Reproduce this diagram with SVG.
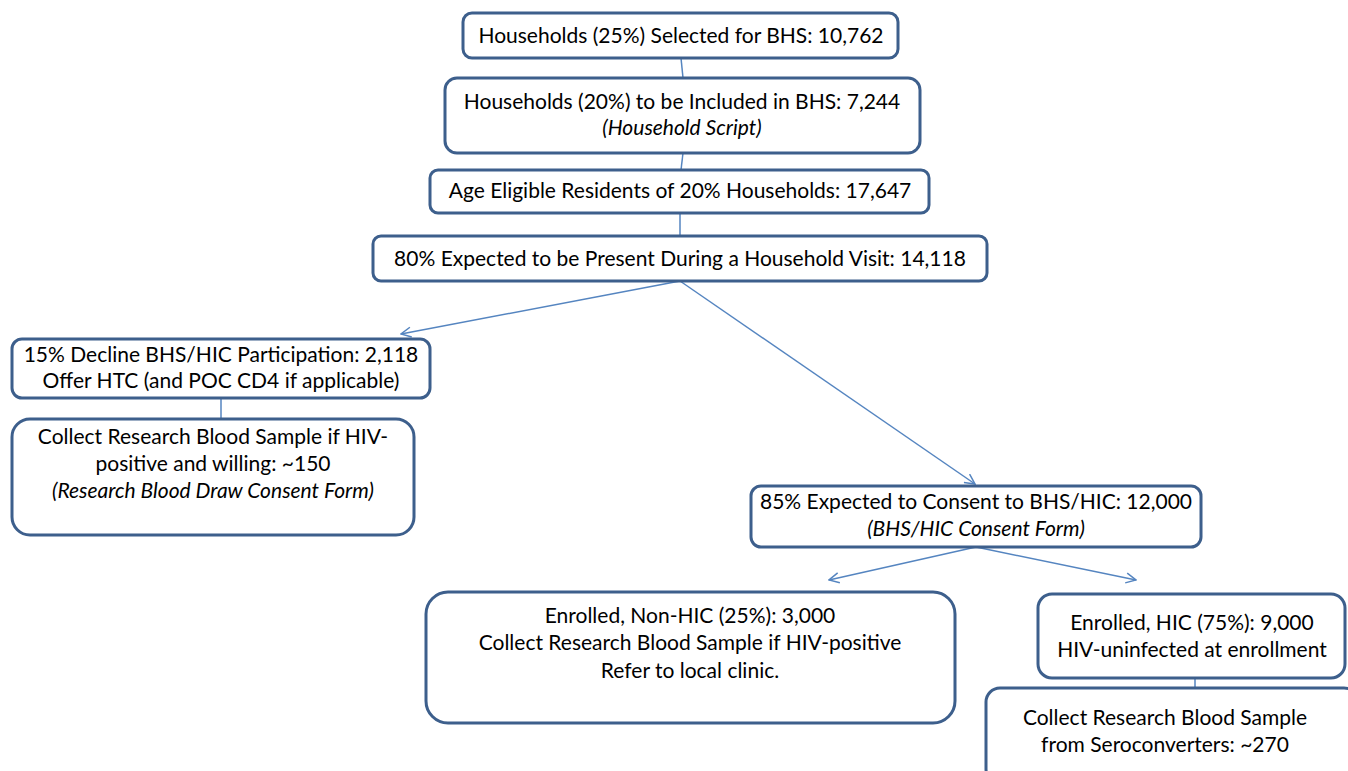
<svg xmlns="http://www.w3.org/2000/svg" width="1348" height="771" viewBox="0 0 1348 771">
  <style>
    .box { fill: #ffffff; stroke: #3d5f8c; stroke-width: 3; }
    .lbl { font-family: Lato, "Liberation Sans", sans-serif; font-size: 21px; fill: #000000; text-anchor: middle; }
    .it { font-style: italic; }
    .conn { fill: none; stroke: #5585c0; stroke-width: 1.5; }
  </style>
  <defs>
    <marker id="open" viewBox="0 0 12 12" refX="11" refY="6" markerWidth="12" markerHeight="12" markerUnits="userSpaceOnUse" orient="auto">
      <path d="M1,1 L11,6 L1,11" fill="none" stroke="#5585c0" stroke-width="1.5"/>
    </marker>
  </defs>

  <g id="connectors">
    <line class="conn" x1="681" y1="58" x2="683" y2="78"/>
    <line class="conn" x1="683" y1="153" x2="681" y2="170"/>
    <line class="conn" x1="680" y1="213" x2="680" y2="236"/>
    <line class="conn" x1="680" y1="281" x2="401" y2="334" marker-end="url(#open)"/>
    <line class="conn" x1="680" y1="281" x2="975" y2="484" marker-end="url(#open)"/>
    <line class="conn" x1="221" y1="398" x2="221" y2="419"/>
    <line class="conn" x1="976" y1="547" x2="829" y2="580" marker-end="url(#open)"/>
    <line class="conn" x1="976" y1="547" x2="1136" y2="580" marker-end="url(#open)"/>
    <line class="conn" x1="1195" y1="678" x2="1195" y2="688"/>
  </g>

  <g id="selected">
    <rect class="box" x="463" y="13" width="435" height="45" rx="9"/>
    <text class="lbl" x="681" y="43">Households (25%) Selected for BHS: 10,762</text>
  </g>

  <g id="included">
    <rect class="box" x="445" y="78" width="475" height="75" rx="12"/>
    <text class="lbl" x="682" y="109">Households (20%) to be Included in BHS: 7,244</text>
    <text class="lbl it" x="682" y="135">(Household Script)</text>
  </g>

  <g id="residents">
    <rect class="box" x="430" y="170" width="499" height="43" rx="8"/>
    <text class="lbl" x="680" y="198">Age Eligible Residents of 20% Households: 17,647</text>
  </g>

  <g id="present">
    <rect class="box" x="373" y="236" width="614" height="45" rx="8"/>
    <text class="lbl" x="680" y="266">80% Expected to be Present During a Household Visit: 14,118</text>
  </g>

  <g id="decline">
    <rect class="box" x="12" y="339" width="418" height="59" rx="10"/>
    <text class="lbl" x="221" y="362">15% Decline BHS/HIC Participation: 2,118</text>
    <text class="lbl" x="221" y="388">Offer HTC (and POC CD4 if applicable)</text>
  </g>

  <g id="decline-sample">
    <rect class="box" x="12" y="419" width="402" height="116" rx="18"/>
    <text class="lbl" x="213" y="444">Collect Research Blood Sample if HIV-</text>
    <text class="lbl" x="213" y="471">positive and willing: ~150</text>
    <text class="lbl it" x="213" y="498">(Research Blood Draw Consent Form)</text>
  </g>

  <g id="consent">
    <rect class="box" x="751" y="486" width="450" height="61" rx="10"/>
    <text class="lbl" x="976" y="509">85% Expected to Consent to BHS/HIC: 12,000</text>
    <text class="lbl it" x="976" y="536">(BHS/HIC Consent Form)</text>
  </g>

  <g id="non-hic">
    <rect class="box" x="426" y="592" width="529" height="131" rx="22"/>
    <text class="lbl" x="690" y="623">Enrolled, Non-HIC (25%): 3,000</text>
    <text class="lbl" x="690" y="650">Collect Research Blood Sample if HIV-positive</text>
    <text class="lbl" x="690" y="678">Refer to local clinic.</text>
  </g>

  <g id="hic">
    <rect class="box" x="1038" y="594" width="307" height="84" rx="14"/>
    <text class="lbl" x="1192" y="630">Enrolled, HIC (75%): 9,000</text>
    <text class="lbl" x="1192" y="657">HIV-uninfected at enrollment</text>
  </g>

  <g id="seroconverters">
    <rect class="box" x="986" y="688" width="372" height="95" rx="14"/>
    <text class="lbl" x="1165" y="725">Collect Research Blood Sample</text>
    <text class="lbl" x="1165" y="752">from Seroconverters: ~270</text>
  </g>
</svg>
